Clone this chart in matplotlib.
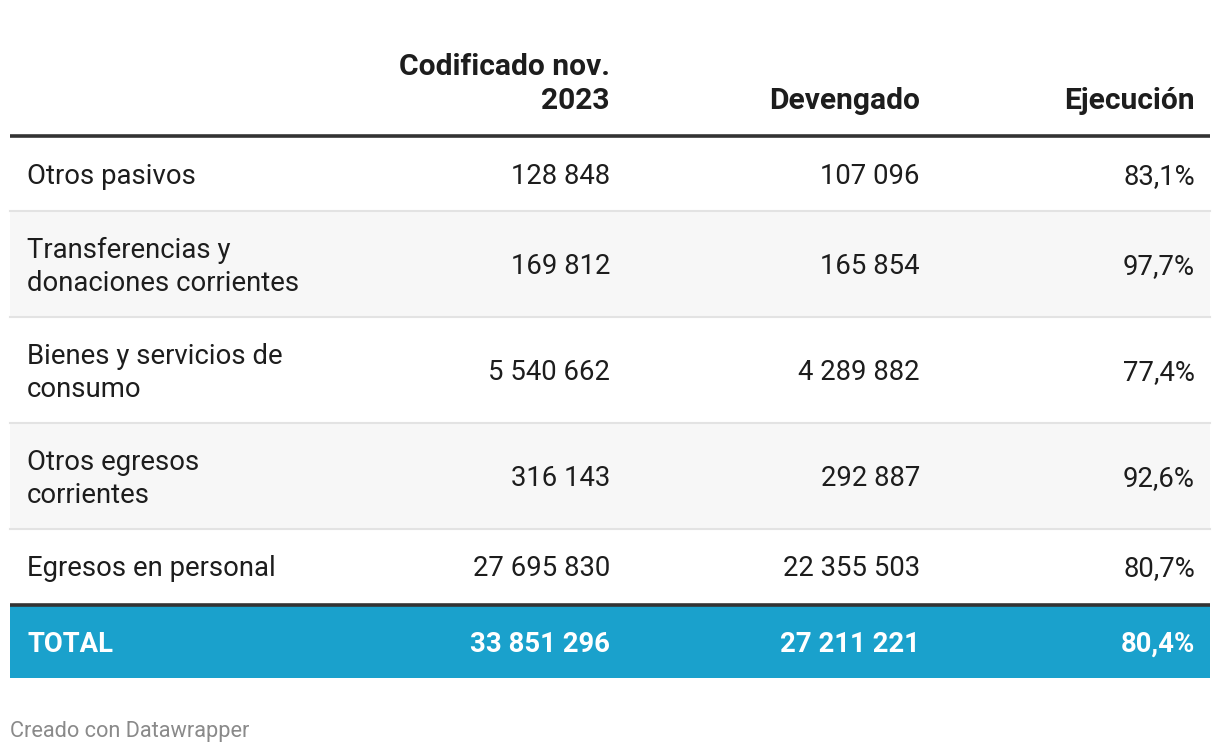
import matplotlib.pyplot as plt
from matplotlib.patches import Rectangle

plt.rcParams['font.family'] = ['Roboto', 'DejaVu Sans']

# table data
columns = ["Codificado nov.\n2023", "Devengado", "Ejecución"]
categories = ["Otros pasivos", "Transferencias y\ndonaciones corrientes",
              "Bienes y servicios de\nconsumo", "Otros egresos\ncorrientes",
              "Egresos en personal"]
codificado = [128848, 169812, 5540662, 316143, 27695830]
devengado = [107096, 165854, 4289882, 292887, 22355503]
ejecucion = [83.1, 97.7, 77.4, 92.6, 80.7]
total_label = "TOTAL"
total_codificado = 33851296
total_devengado = 27211221
total_ejecucion = 80.4


def fmt_num(v):
    return f"{v:,}".replace(",", " ")


def fmt_pct(v):
    return f"{v:.1f}%".replace(".", ",")


W, H = 1220, 754
fig = plt.figure(figsize=(W / 100, H / 100), dpi=100)
ax = fig.add_axes([0, 0, 1, 1])
ax.set_xlim(0, W)
ax.set_ylim(H, 0)
ax.axis('off')

left, right = 10, 1210
text_x = 27
col_right = [610, 920, 1195]
dark = '#333333'
txt = '#1d1d1d'
fs = 19.8
fs_head = 21.6

# header
for x, label in zip(col_right, columns):
    ax.text(x, 115, label, ha='right', va='bottom', fontsize=fs_head,
            fontweight='bold', color=txt, linespacing=1.28)
ax.plot([left, right], [135.5, 135.5], color=dark, lw=2.6, solid_capstyle='butt')

# body rows
y = 137
for i, cat in enumerate(categories):
    n_lines = cat.count("\n") + 1
    h = 74 if n_lines == 1 else 106
    if i % 2 == 1:
        ax.add_patch(Rectangle((left, y), right - left, h, color='#f7f7f7', lw=0))
    yc = y + h / 2 + 3
    ax.text(text_x, yc, cat, ha='left', va='center', fontsize=fs, color=txt,
            linespacing=1.25)
    vals = [fmt_num(codificado[i]), fmt_num(devengado[i]), fmt_pct(ejecucion[i])]
    for x, v in zip(col_right, vals):
        ax.text(x, yc, v, ha='right', va='center', fontsize=fs, color=txt)
    y += h
    if i < len(categories) - 1:
        ax.plot([left, right], [y, y], color='#e3e3e3', lw=1.5)

# total row
ax.plot([left, right], [y + 1.5, y + 1.5], color=dark, lw=2.6, solid_capstyle='butt')
ax.add_patch(Rectangle((left, y + 3), right - left, 72, color='#1aa1cc', lw=0))
yc = y + 3 + 36 + 2
ax.text(text_x, yc, total_label, ha='left', va='center', fontsize=fs,
        fontweight='bold', color='white')
tot_vals = [fmt_num(total_codificado), fmt_num(total_devengado), fmt_pct(total_ejecucion)]
for x, v in zip(col_right, tot_vals):
    ax.text(x, yc, v, ha='right', va='center', fontsize=fs, fontweight='bold', color='white')

# footer
ax.text(left, 731, "Creado con Datawrapper", ha='left', va='center', fontsize=15.7,
        color='#8a8a8a')

fig.savefig('out.png', dpi=100)
